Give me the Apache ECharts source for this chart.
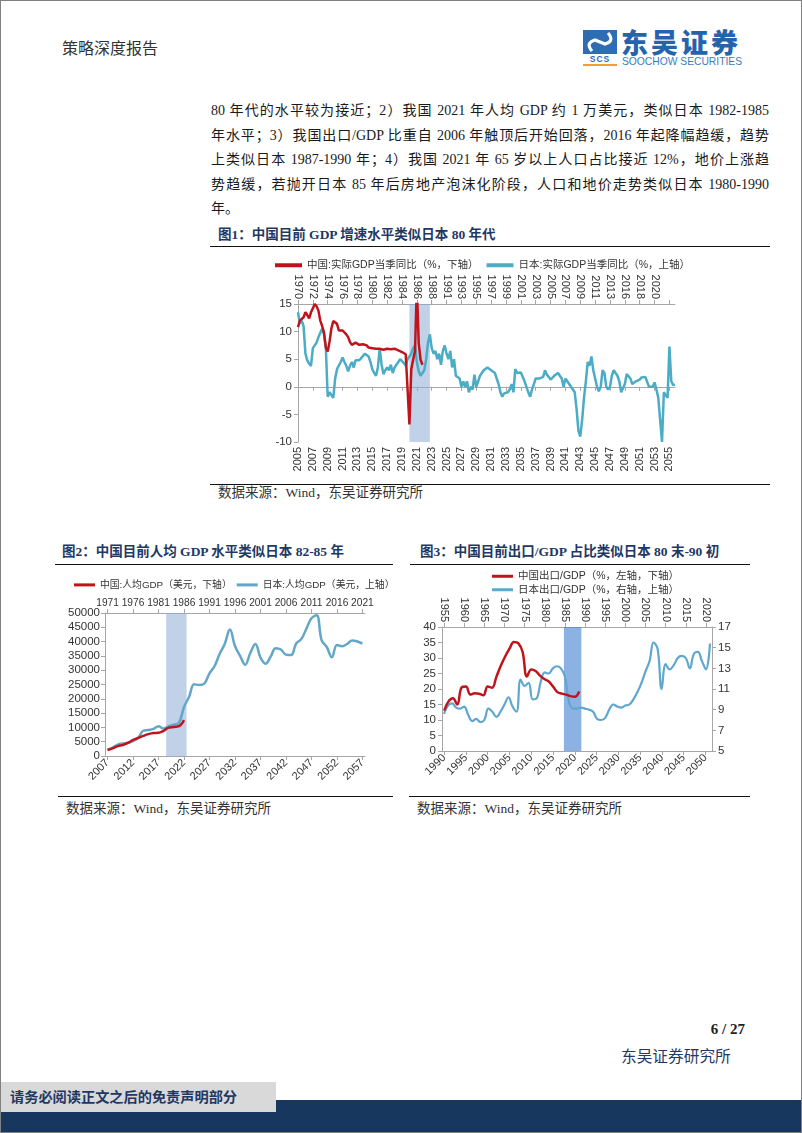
<!DOCTYPE html>
<html><head><meta charset="utf-8">
<script src="https://cdn.jsdelivr.net/npm/echarts@6/dist/echarts.min.js"></script>
<style>
html,body{margin:0;padding:0;background:#fff;}
#page{position:relative;width:802px;height:1133px;overflow:hidden;background:#fff;}
.abs{position:absolute;white-space:nowrap;}
.serif{font-family:"Liberation Serif","Noto Sans CJK SC",serif;}
.line{position:absolute;left:211px;width:558px;height:20px;font-size:14px;line-height:20px;text-align:justify;text-align-last:justify;color:#1a1a1a;white-space:nowrap;}
.cap{font-size:13.5px;font-weight:bold;color:#1f3864;line-height:18px;}
.rule{position:absolute;height:0;border-top:1.5px solid #111;}
.src{font-size:13.5px;color:#333;line-height:18px;}
</style></head>
<body>
<div id="page">
  <div class="abs" style="left:62px;top:37px;font-size:16px;line-height:20px;color:#333;font-family:'Noto Sans CJK SC',sans-serif;">策略深度报告</div>
  <svg class="abs" style="left:583px;top:30px" width="36" height="38">
    <rect x="0" y="0" width="34" height="24" fill="#2e6db4"/>
    <path d="M9,21 Q2,13 12,10 L22,14 Q32,11 25,3" stroke="#fff" stroke-width="3.2" fill="none"/>
    <text x="17" y="32" font-family="Liberation Sans" font-weight="bold" font-size="8.5" fill="#2e6db4" text-anchor="middle" letter-spacing="1">SCS</text>
    <rect x="0" y="34" width="34" height="2" fill="#f0a030"/>
  </svg>
  <div class="abs" style="left:621px;top:27px;font-size:27px;line-height:30px;font-weight:900;color:#2563ad;letter-spacing:3px;font-family:'Noto Sans CJK SC',sans-serif;">东吴证券</div>
  <div id="sooch" class="abs" style="left:622px;top:55px;font-size:11px;line-height:12px;color:#3a7cc2;font-family:'Liberation Sans',sans-serif;transform-origin:0 0;">SOOCHOW SECURITIES</div>

  <div class="line serif" style="top:101px">80 年代的水平较为接近；2）我国 2021 年人均 GDP 约 1 万美元，类似日本 1982-1985</div>
  <div class="line serif" style="top:125.5px">年水平；3）我国出口/GDP 比重自 2006 年触顶后开始回落，2016 年起降幅趋缓，趋势</div>
  <div class="line serif" style="top:150px">上类似日本 1987-1990 年；4）我国 2021 年 65 岁以上人口占比接近 12%，地价上涨趋</div>
  <div class="line serif" style="top:174.5px">势趋缓，若抛开日本 85 年后房地产泡沫化阶段，人口和地价走势类似日本 1980-1990</div>
  <div class="line serif" style="top:199px;text-align-last:left">年。</div>

  <div class="abs serif cap" style="left:218px;top:226px">图1：中国目前 GDP 增速水平类似日本 80 年代</div>
  <div class="rule" style="left:210px;top:246px;width:560px"></div>
  <div id="c1" class="abs" style="left:210px;top:250px;width:560px;height:232px"></div>
  <div class="rule" style="left:210px;top:484px;width:560px"></div>
  <div class="abs serif src" style="left:218px;top:484px">数据来源：Wind，东吴证券研究所</div>

  <div class="abs serif cap" style="left:62px;top:543px">图2：中国目前人均 GDP 水平类似日本 82-85 年</div>
  <div class="rule" style="left:55px;top:564px;width:338px"></div>
  <div id="c2" class="abs" style="left:55px;top:568px;width:345px;height:226px"></div>
  <div class="rule" style="left:58px;top:796px;width:335px"></div>
  <div class="abs serif src" style="left:66px;top:800px">数据来源：Wind，东吴证券研究所</div>

  <div class="abs serif cap" style="left:420px;top:543px">图3：中国目前出口/GDP 占比类似日本 80 末-90 初</div>
  <div class="rule" style="left:410px;top:564px;width:340px"></div>
  <div id="c3" class="abs" style="left:410px;top:562px;width:350px;height:232px"></div>
  <div class="rule" style="left:409px;top:796px;width:341px"></div>
  <div class="abs serif src" style="left:417px;top:800px">数据来源：Wind，东吴证券研究所</div>

  <div class="abs serif" style="left:700px;top:1020px;width:45px;text-align:right;font-size:15px;font-weight:bold;color:#222;line-height:18px;">6 / 27</div>
  <div class="abs serif" style="left:621px;top:1048px;font-size:15.7px;color:#1f3864;line-height:18px;">东吴证券研究所</div>
  <div class="abs" style="left:0;top:1100px;width:802px;height:33px;background:#17375e;"></div>
  <div class="abs" style="left:0;top:1082px;width:276px;height:30px;background:#d9d9d9;"></div>
  <div class="abs serif" style="left:10px;top:1088px;font-size:14.2px;color:#1f3864;line-height:18px;font-weight:bold;">请务必阅读正文之后的免责声明部分</div>
  <div class="abs" style="left:0;top:0;width:800px;height:1131px;border:1px solid #808080;pointer-events:none;"></div>
</div>
<script>
// ---------------- data ----------------
// Figure 1: quarterly real GDP yoy (%)
const cnGdpQ = [10.8,12.0,12.2,12.6, 13.5,13.0,12.4,13.5, 14.2,15.0,14.6,13.8, 12.0,11.0,9.8,7.1,
  6.4,8.2,10.6,11.9, 12.2,11.4,10.2,10.0, 10.2,10.0,9.5,9.0, 8.1,7.6,7.5,8.0, 7.9,7.6,7.9,7.7,
  7.4,7.5,7.1,7.2, 7.0,7.0,6.9,6.8, 6.9,6.7,6.7,6.8, 6.9,6.9,6.8,6.8, 6.9,6.8,6.6,6.4,
  6.3,6.0,5.9,5.8, -6.8,3.2,4.9,6.5, 18.3,7.9,4.9,4.0];
const jpGdpQ = [13.5,11.5,12,11,6,4.8,4.2,3.8,7,7.5,
  8,9,9.8,10.5,9.5,7,-1.8,-1,-1.5,-2,
  1.5,3.2,3.5,4.5,5.3,4.5,3.8,2.8,3.8,4.5,
  3.5,4.8,5,4.8,5.2,5.5,6,6.3,5.5,4.5,
  3.2,2.5,2,3.5,7,4,2.3,3,3.5,3,
  4,2.5,3.5,4,4.5,5,4.8,4.3,3.8,5,
  5.5,6,7,7.5,4.5,2.8,2,1.8,3,5,
  8,9.5,7,6,6.5,5,6,4,6.5,7.5,
  6,5,6.5,3.5,5,2,2.3,1.5,0,1,
  0,1,-1,0,-0.5,2.2,0,1,2,2.5,
  3,3.2,3.5,3.2,3,2.8,2.5,1.5,0.5,-1,
  -1.8,-1.2,-1.5,-1,-0.5,0.5,-1,3.2,2.5,2.5,
  2.6,2.5,1,0,-1,-1.8,-0.5,0.5,1.5,1.5,
  1.5,1.6,1.8,3,2.2,1.8,1.3,1,2,2.3,
  2.5,2,1.5,0,1.5,1,0.5,0,-0.5,-1,
  -4,-8,-9,-6,-2,1,4.5,3.8,5.5,3,
  1.5,0,-0.8,0,3,2.5,0,-0.5,0,2,
  3,3,2,1,-1,-1.2,0.5,2.3,2,1.5,
  0.5,0.8,1,1.2,1.3,1.7,2,1.8,1.5,0,
  -0.2,0,0.8,-0.5,-2,-6,-10,-1,-1.5,-2,
  7.3,1,0.3,0.4];
const fig1Bottom = ['2005','2007','2009','2011','2013','2015','2017','2019','2021','2023','2025','2027','2029',
  '2031','2033','2035','2037','2039','2041','2043','2045','2047','2049','2051','2053','2055'];
const fig1Top = ['1970','1972','1974','1976','1978','1980','1982','1984','1986','1988','1991','1993','1995',
  '1997','1999','2001','2003','2005','2007','2009','2011','2013','2016','2018','2020'];
const fig1Quarters = 204;        // number of quarterly categories on each axis
const fig1LabelStep = 8;         // one label every 8 quarters
const fig1Band = ['60','71'];    // shaded quarters (2020Q1 .. 2022Q4 on the lower axis)

// Figure 2: GDP per capita (USD)
const fig2BottomYears = [2007, 2057];
const fig2TopYears = [1971, 2021];
const cnGdpPc = [2099,2694,3468,3832,4550,5614,6301,7020,7636,8016,8094,8817,9905,10144,10409,12556];
const jpGdpPc = [2272,2967,3997,4354,4659,5197,6335,8821,9105,9463,
  10361,9578,10425,10984,11585,17112,20745,25051,24813,25359,
  28925,31465,35766,39269,44198,38437,35022,31903,36027,39169,
  34406,32289,34808,37688,37218,35434,35275,39339,40855,44508,
  48200,49200,40454,38109,34524,38794,38387,39159,40415,40040,39313];
const fig2Band = [12, 16];

// Figure 3: exports / GDP (%)
const fig3BottomYears = [1990, 2051];
const fig3TopYears = [1955, 2021];
const cnExport = [13.0,16.0,17.0,15.0,20.5,20.8,18.2,18.6,18.5,18.0,
  20.8,20.4,24.0,27.5,30.5,33.0,35.2,34.8,32.0,24.0,
  26.3,25.8,24.3,23.2,22.4,20.8,19.0,18.5,18.2,17.7,17.5,19.2];
const jpExport = [8.6,9.4,9.6,9.2,9.1,9.3,8.5,7.9,8.1,7.8,
  8.0,9.1,8.8,8.3,8.8,9.5,10.2,9.3,8.8,11.9,
  11.3,11.6,10.0,10.1,11.7,12.6,12.5,13.0,13.2,13.0,
  12.2,9.8,9.1,9.1,9.2,9.1,9.0,8.8,8.1,8.0,
  8.2,9.0,9.5,9.3,9.2,9.4,9.5,10.0,10.7,11.6,
  12.7,13.7,15.5,14.9,11.0,13.4,12.9,13.3,14.0,14.2,
  14.0,13.0,14.4,14.6,13.7,12.9,15.4];
const fig3Band = [28, 32];

// ---------------- helpers ----------------
const range = (a, b) => { const r = []; for (let y = a; y <= b; y++) r.push(String(y)); return r; };
const F = "'Liberation Sans', Arial, sans-serif";
const FL = "'Liberation Sans', 'Noto Sans CJK SC', sans-serif";
const AX = '#a6a6a6', LB = '#333';
const RED = '#c0141c';
const plain = (v) => String(v);
const axisLine = { show: true, lineStyle: { color: AX, width: 1 } };
const tick = (iv) => ({ show: true, interval: iv, length: 4, lineStyle: { color: AX } });

// fit the logo subtitle
(function(){ const s = document.getElementById('sooch'); const w = s.getBoundingClientRect().width; s.style.transform = 'scaleX(' + (120 / w) + ')'; })();

// ---------------- figure 1 ----------------
(function () {
  const cats = Array.from({ length: fig1Quarters }, (_, i) => String(i));
  const fmt = (labels) => (v) => { const i = +v; return i % fig1LabelStep === 0 ? (labels[i / fig1LabelStep] || '') : ''; };
  const c = echarts.init(document.getElementById('c1'), null, { renderer: 'canvas' });
  c.setOption({
    animation: false,
    textStyle: { fontFamily: F },
    legend: {
      left: 60, top: 5, icon: 'rect', itemWidth: 27, itemHeight: 4, itemGap: 8,
      textStyle: { fontSize: 10.5, color: LB, fontFamily: FL },
      data: ['中国:实际GDP当季同比（%，下轴）', '日本:实际GDP当季同比（%，上轴）']
    },
    grid: { left: 88, top: 54, width: 377, height: 138, containLabel: false },
    xAxis: [
      { type: 'category', data: cats, position: 'bottom', boundaryGap: false,
        axisLine: { show: true, onZero: true, lineStyle: { color: AX } }, axisTick: tick(fig1LabelStep - 1),
        axisLabel: { show: false }, splitLine: { show: false } },
      { type: 'category', data: cats, position: 'top', boundaryGap: false,
        axisLine: axisLine, axisTick: tick(fig1LabelStep - 1), splitLine: { show: false },
        axisLabel: { interval: fig1LabelStep - 1, rotate: 90, fontSize: 11, color: LB, margin: 5, formatter: fmt(fig1Top) } },
      { type: 'category', data: cats, position: 'bottom', boundaryGap: false,
        axisLine: { show: false, onZero: false }, axisTick: { show: false }, splitLine: { show: false },
        axisLabel: { interval: fig1LabelStep - 1, rotate: 90, fontSize: 11, color: LB, margin: 5, formatter: fmt(fig1Bottom) } }
    ],
    yAxis: { type: 'value', min: -10, max: 15, interval: 5, axisLine: axisLine,
      axisTick: { show: true, length: 4, lineStyle: { color: AX } }, splitLine: { show: false },
      axisLabel: { fontSize: 11.5, color: LB, margin: 6, formatter: plain } },
    series: [
      { name: '日本:实际GDP当季同比（%，上轴）', type: 'line', xAxisIndex: 1, data: jpGdpQ, showSymbol: false,
        lineStyle: { color: '#4bacc6', width: 2.5 }, itemStyle: { color: '#4bacc6' }, z: 2 },
      { name: '中国:实际GDP当季同比（%，下轴）', type: 'line', xAxisIndex: 0, data: cnGdpQ, showSymbol: false,
        lineStyle: { color: RED, width: 2.5 }, itemStyle: { color: RED }, z: 3 },
      { type: 'line', xAxisIndex: 0, data: [], z: 6, silent: true,
        markArea: { silent: true, itemStyle: { color: 'rgba(140,172,214,0.55)' },
          data: [[{ xAxis: fig1Band[0] }, { xAxis: fig1Band[1] }]] } }
    ]
  });
})();

// ---------------- figure 2 ----------------
(function () {
  const bottom = range(fig2BottomYears[0], fig2BottomYears[1]);
  const top = range(fig2TopYears[0], fig2TopYears[1]);
  const c = echarts.init(document.getElementById('c2'));
  c.setOption({
    animation: false,
    textStyle: { fontFamily: F },
    legend: {
      left: 14, top: 7, width: 330, icon: 'rect', itemWidth: 21, itemHeight: 3, itemGap: 5,
      textStyle: { fontSize: 9.8, color: LB, fontFamily: FL },
      data: ['中国:人均GDP（美元，下轴）', '日本:人均GDP（美元，上轴）']
    },
    grid: { left: 50, top: 45, width: 260, height: 143 },
    xAxis: [
      { type: 'category', data: bottom, position: 'bottom', boundaryGap: true, axisLine: axisLine,
        axisTick: Object.assign(tick(4), { alignWithLabel: true }), splitLine: { show: false },
        axisLabel: { interval: 4, rotate: 45, fontSize: 11, color: LB, margin: 5 } },
      { type: 'category', data: top, position: 'top', boundaryGap: true, axisLine: axisLine,
        axisTick: Object.assign(tick(4), { alignWithLabel: true }), splitLine: { show: false },
        axisLabel: { interval: 4, fontSize: 10.2, color: LB, margin: 5 } },
      { type: 'value', min: 0, max: bottom.length, show: false }
    ],
    yAxis: { type: 'value', min: 0, max: 50000, interval: 5000, axisLine: axisLine,
      axisTick: { show: true, length: 4, lineStyle: { color: AX } }, splitLine: { show: false },
      axisLabel: { fontSize: 11.5, color: LB, margin: 5, formatter: plain } },
    series: [
      { name: '日本:人均GDP（美元，上轴）', type: 'line', xAxisIndex: 1, data: jpGdpPc, showSymbol: false, smooth: 0.4,
        lineStyle: { color: '#63a7c8', width: 2.5 }, itemStyle: { color: '#63a7c8' }, z: 2 },
      { name: '中国:人均GDP（美元，下轴）', type: 'line', xAxisIndex: 0, data: cnGdpPc, showSymbol: false, smooth: 0.4,
        lineStyle: { color: RED, width: 2.5 }, itemStyle: { color: RED }, z: 3 },
      { type: 'line', xAxisIndex: 2, data: [], z: 6, silent: true,
        markArea: { silent: true, itemStyle: { color: 'rgba(140,172,214,0.55)' },
          data: [[{ xAxis: fig2Band[0] }, { xAxis: fig2Band[1] }]] } }
    ]
  });
})();

// ---------------- figure 3 ----------------
(function () {
  const bottom = range(fig3BottomYears[0], fig3BottomYears[1]);
  const top = range(fig3TopYears[0], fig3TopYears[1]);
  const c = echarts.init(document.getElementById('c3'));
  c.setOption({
    animation: false,
    textStyle: { fontFamily: F },
    legend: {
      orient: 'vertical', left: 77, top: 4, icon: 'rect', itemWidth: 21, itemHeight: 3, itemGap: 3,
      textStyle: { fontSize: 10.5, color: LB, fontFamily: FL },
      data: ['中国出口/GDP（%，左轴，下轴）', '日本出口/GDP（%，右轴，上轴）']
    },
    grid: { left: 32, top: 65, width: 270, height: 124 },
    xAxis: [
      { type: 'category', data: bottom, position: 'bottom', boundaryGap: true, axisLine: axisLine,
        axisTick: Object.assign(tick(4), { alignWithLabel: true }), splitLine: { show: false },
        axisLabel: { interval: 4, rotate: 45, fontSize: 11, color: LB, margin: 5 } },
      { type: 'category', data: top, position: 'top', boundaryGap: true, axisLine: axisLine,
        axisTick: Object.assign(tick(4), { alignWithLabel: true }), splitLine: { show: false },
        axisLabel: { interval: 4, rotate: 90, fontSize: 11, color: LB, margin: 5 } },
      { type: 'value', min: 0, max: bottom.length, show: false }
    ],
    yAxis: [
      { type: 'value', position: 'left', min: 0, max: 40, interval: 5, axisLine: axisLine,
        axisTick: { show: true, length: 4, lineStyle: { color: AX } }, splitLine: { show: false },
        axisLabel: { fontSize: 11.5, color: LB, margin: 6, formatter: plain } },
      { type: 'value', position: 'right', min: 5, max: 17, interval: 2, axisLine: axisLine,
        axisTick: { show: true, length: 4, lineStyle: { color: AX } }, splitLine: { show: false },
        axisLabel: { fontSize: 11.5, color: LB, margin: 6, formatter: plain } }
    ],
    series: [
      { name: '日本出口/GDP（%，右轴，上轴）', type: 'line', xAxisIndex: 1, yAxisIndex: 1, data: jpExport, showSymbol: false, smooth: 0.4,
        lineStyle: { color: '#5fa7cf', width: 2.2 }, itemStyle: { color: '#5fa7cf' }, z: 2 },
      { name: '中国出口/GDP（%，左轴，下轴）', type: 'line', xAxisIndex: 0, yAxisIndex: 0, data: cnExport, showSymbol: false, smooth: 0.4,
        lineStyle: { color: RED, width: 2.5 }, itemStyle: { color: RED }, z: 3 },
      { type: 'line', xAxisIndex: 2, yAxisIndex: 0, data: [], z: 6, silent: true,
        markArea: { silent: true, itemStyle: { color: 'rgba(70,130,210,0.62)' },
          data: [[{ xAxis: fig3Band[0] }, { xAxis: fig3Band[1] }]] } }
    ]
  });
})();
</script>
</body></html>
